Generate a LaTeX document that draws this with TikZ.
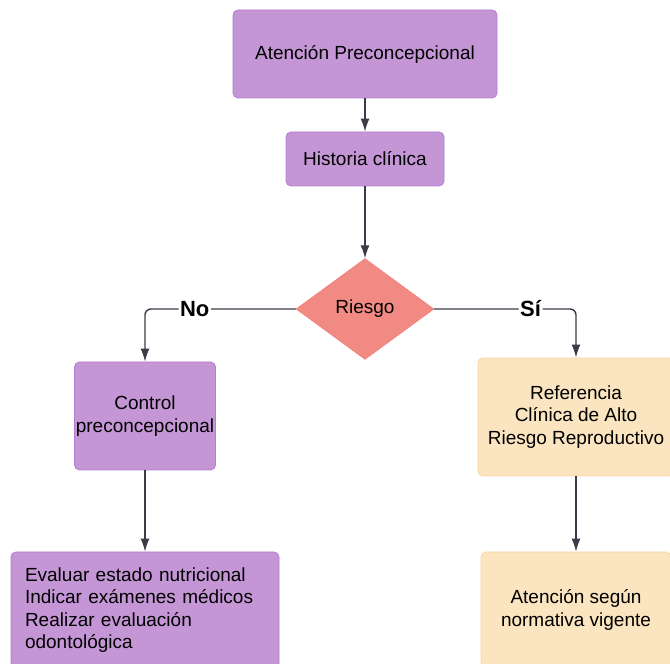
\documentclass[tikz,border=0pt]{standalone}
\usepackage{fontspec}
\setmainfont{Liberation Sans}
\usetikzlibrary{shapes.geometric, arrows.meta}
\definecolor{lila}{RGB}{197,150,214}
\definecolor{lilaborde}{RGB}{180,124,204}
\definecolor{salmon}{RGB}{242,138,132}
\definecolor{crema}{RGB}{251,228,192}
\definecolor{flecha}{RGB}{58,60,72}
\tikzset{
    caja/.style={rectangle, rounded corners=5pt, draw=lilaborde, fill=lila, line width=0.8pt, align=center, inner sep=6pt},
    cajacrema/.style={caja, draw=crema!85!orange, fill=crema},
    rombo/.style={diamond, draw=salmon!90!red, fill=salmon, minimum width=138pt, minimum height=101pt, inner sep=0pt},
    flechita/.style={draw=flecha, line width=1.4pt, -{Latex[length=13pt,width=9pt]}},
    etiqueta/.style={fill=white, inner sep=1.5pt, font=\fontsize{22}{24}\selectfont\bfseries}
}

\begin{document}
\begin{tikzpicture}[x=1pt, y=1pt, every node/.append style={font=\fontsize{19}{22.5}\selectfont}]
    % Fix the page
    \useasboundingbox (0,0) rectangle (670,664);
    \clip (0,0) rectangle (670,664);

    % Top of the chart
    \node[caja, minimum width=264pt, minimum height=88pt] (atencion) at (365,610) {Atención Preconcepcional};
    \node[caja, minimum width=158pt, minimum height=54pt] (historia) at (365,505) {Historia clínica};
    \node[rombo] (riesgo) at (365,355) {Riesgo};

    % Branch without risk
    \node[caja, inner xsep=1pt, minimum width=141pt, minimum height=108pt] (control) at (145,248) {Control\\preconcepcional};
    \node[caja, text width=240pt, inner sep=14pt, minimum height=116pt, align=left] (evaluar) at (145,54)
        {Evaluar estado nutricional\\Indicar exámenes médicos\\Realizar evaluación\\odontológica};

    % Branch with risk
    \node[cajacrema, minimum width=196pt, minimum height=118pt] (referencia) at (576,247) {Referencia\\Clínica de Alto\\Riesgo Reproductivo};
    \node[cajacrema, minimum width=190pt, minimum height=116pt] (normativa) at (576,54) {Atención según\\normativa vigente};

    % Connectors
    \draw[flechita] (atencion) -- (historia);
    \draw[flechita] (historia) -- (riesgo);
    \draw[flechita, rounded corners=6pt] (riesgo.west) -| node[etiqueta, pos=0.335] {No} (control.north);
    \draw[flechita, rounded corners=6pt] (riesgo.east) -| node[etiqueta, pos=0.34] {Sí} (referencia.north);
    \draw[flechita] (control) -- (evaluar);
    \draw[flechita] (referencia) -- (normativa);
\end{tikzpicture}
\end{document}
